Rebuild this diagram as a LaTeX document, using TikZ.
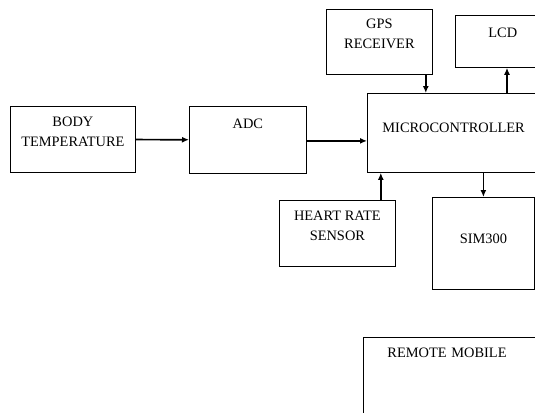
\documentclass[tikz,border=0pt]{standalone}
\usepackage{fontspec}
\setmainfont{Liberation Serif}
\usetikzlibrary{arrows.meta,positioning}

\tikzset{block/.style={draw,line width=0.8pt,inner sep=0pt,align=center,
                       font=\fontsize{14.4}{20}\selectfont},
         flow/.style={->,line width=1.7pt}}

\begin{document}
\begin{tikzpicture}[>={Latex[length=7pt,width=6pt]},x=1pt,y=-1pt]

\useasboundingbox (0,0) rectangle (535,412);
\clip (0,0) rectangle (535,412);

\node (body) [block,anchor=north west,minimum width=125pt,minimum height=66pt] at (10,106) {BODY\\TEMPERATURE\\[-4pt]};
\node (adc) [block,anchor=north west,minimum width=117pt,text height=22pt,text depth=45pt] at (189,106) {ADC};
\node (micro) [block,anchor=north west,text width=170pt,align=left,inner xsep=15pt,text height=39pt,text depth=40pt] at (367,93) {MICROCONTROLLER};

\node (gps) [block,anchor=north west,minimum width=106pt,minimum height=65pt] at (326,9) {GPS\\RECEIVER\\[-4pt]};
\node (lcd) [block,anchor=north west,text width=90pt,align=left,inner xsep=33pt,text height=22pt,text depth=30pt] at (455,15) {LCD};

\node (heart) [block,anchor=north west,minimum width=116pt,minimum height=66pt] at (279,200) {HEART RATE\\SENSOR\\[-4pt]};
\node (sim) [block,anchor=north west,minimum width=102pt,minimum height=92pt] at (432,197) {SIM300\\[-10pt]};

\node (remote) [block,anchor=north west,text width=200pt,align=left,inner xsep=24pt,text height=20pt,text depth=80pt] at (363,337) {REMOTE MOBILE};

\draw[flow] (body) -- (adc);
\draw[flow] ([yshift=-1pt]adc.east) -- ([yshift=-1pt]adc.east -| micro.west);
\draw[flow] ([xshift=-7pt]gps.south east) -- ([xshift=-7pt]gps.south east |- micro.north);
\draw[flow] ([xshift=52pt]lcd.south west |- micro.north) -- ([xshift=52pt]lcd.south west);
\draw[flow] ([xshift=-15pt]heart.north east) -- ([xshift=-15pt]heart.north east |- micro.south);
\draw[flow] (sim.north |- micro.south) -- (sim.north);

\end{tikzpicture}
\end{document}
